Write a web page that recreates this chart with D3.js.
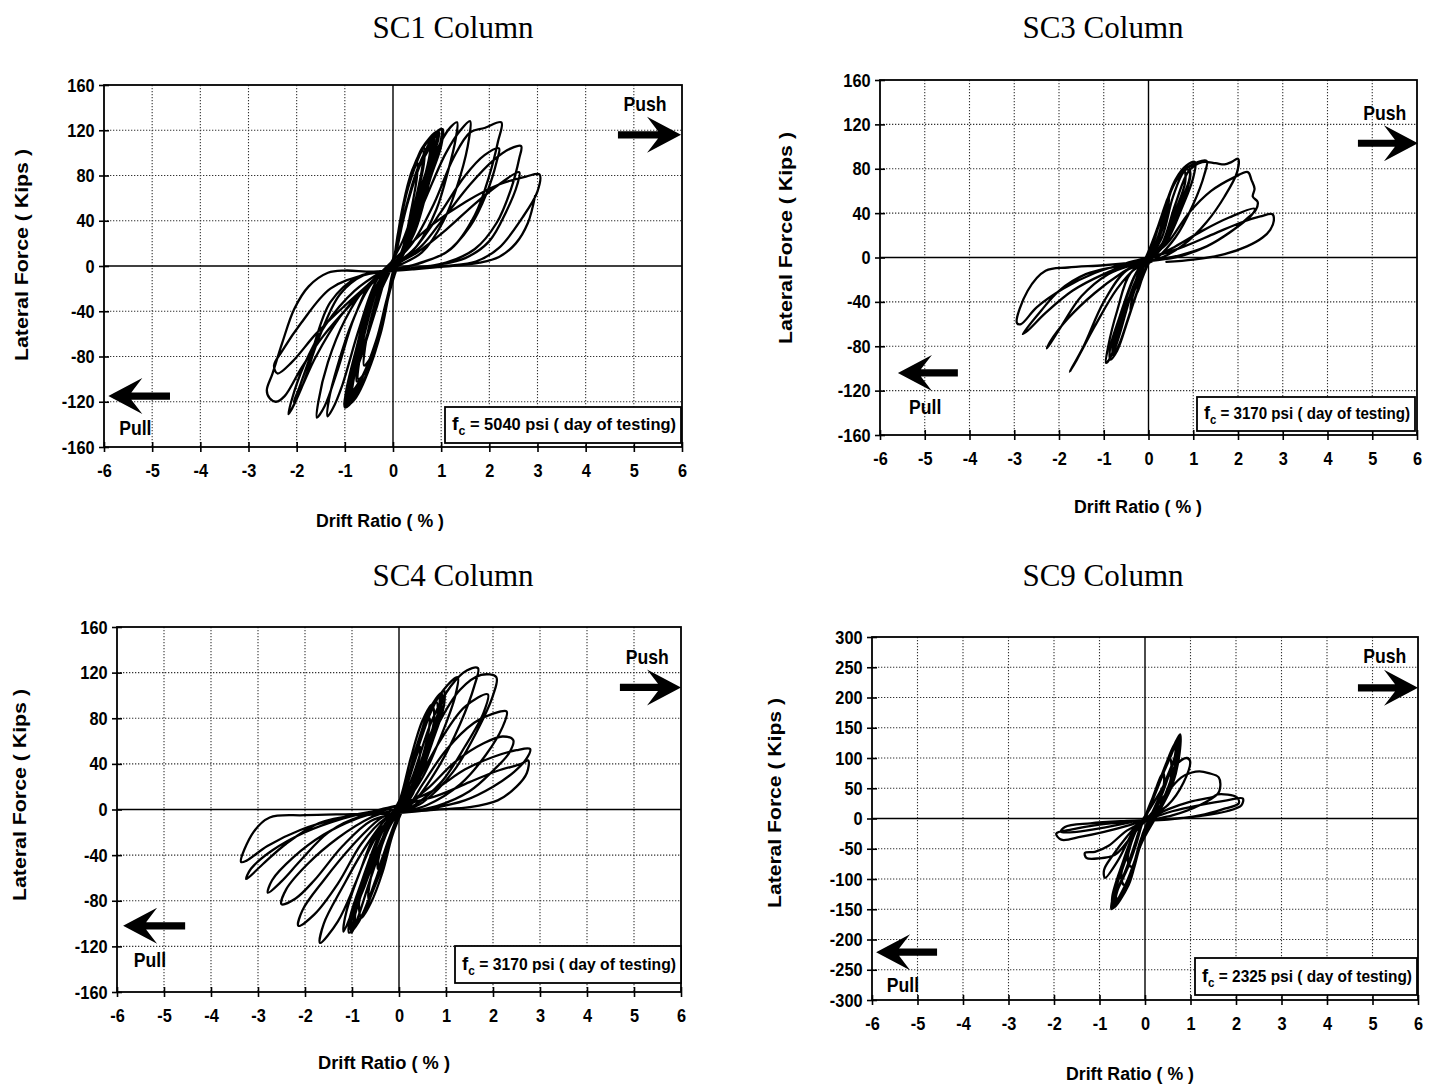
<!DOCTYPE html>
<html>
<head>
<meta charset="utf-8">
<script src="https://cdn.jsdelivr.net/npm/d3@7"></script>
<style>
  html, body { margin: 0; padding: 0; background: #fff; }
  svg { display: block; }
</style>
</head>
<body>
<svg id="fig" width="1440" height="1088"></svg>
<script>
// ---- chart data -------------------------------------------------------
const panelTitles = ["SC1 Column", "SC3 Column", "SC4 Column", "SC9 Column"];
const concreteStrength = ["5040", "3170", "3170", "2325"];
const driftTicks = [-6, -5, -4, -3, -2, -1, 0, 1, 2, 3, 4, 5, 6];
const forceTicks160 = [-160, -120, -80, -40, 0, 40, 80, 120, 160];
const forceTicks300 = [-300, -250, -200, -150, -100, -50, 0, 50, 100, 150, 200, 250, 300];

// Hysteresis loops, [drift %, lateral force kips], one array per cycle.
const sc1Loops = [
  [[0,0],[0.08,20],[0.2,50],[0.35,78],[0.5,92],[0.5,80],[0.38,50],[0.2,15],[0,-5],[-0.1,-25],[-0.25,-55],[-0.45,-80],[-0.6,-88],[-0.58,-72],[-0.42,-40],[-0.2,-10],[0,4]],
  [[0.08,22],[0.22,55],[0.4,85],[0.65,104],[0.64,90],[0.48,58],[0.26,20],[0.02,-5],[-0.1,-28],[-0.28,-62],[-0.55,-92],[-0.75,-102],[-0.72,-85],[-0.55,-50],[-0.28,-14],[0,4]],
  [[0.07,20],[0.2,52],[0.38,82],[0.62,102],[0.61,88],[0.45,55],[0.24,18],[0.02,-5],[-0.09,-26],[-0.26,-60],[-0.52,-90],[-0.72,-100],[-0.7,-84],[-0.52,-48],[-0.26,-12],[0,4]],
  [[0.1,25],[0.25,60],[0.5,95],[0.8,114],[0.79,100],[0.6,68],[0.32,24],[0.04,-4],[-0.12,-30],[-0.32,-68],[-0.62,-102],[-0.86,-114],[-0.83,-98],[-0.66,-62],[-0.35,-18],[0,5]],
  [[0.09,23],[0.23,57],[0.47,92],[0.77,112],[0.76,98],[0.57,65],[0.3,22],[0.03,-4],[-0.11,-29],[-0.3,-66],[-0.6,-100],[-0.84,-113],[-0.8,-96],[-0.63,-60],[-0.33,-17],[0,5]],
  [[0.08,15],[0.25,48],[0.5,85],[0.85,115],[0.84,105],[0.6,72],[0.35,35],[0.12,5],[-0.1,-25],[-0.3,-60],[-0.6,-95],[-0.9,-118],[-0.88,-108],[-0.6,-72],[-0.35,-38],[-0.12,-6],[0,3]],
  [[0.1,20],[0.3,55],[0.55,88],[0.9,117],[0.88,100],[0.55,62],[0.3,28],[0.1,3],[-0.12,-28],[-0.35,-66],[-0.68,-102],[-0.97,-122],[-0.93,-110],[-0.65,-76],[-0.4,-42],[-0.14,-8],[0,3]],
  [[0.1,28],[0.28,64],[0.58,102],[0.92,119],[0.9,106],[0.7,76],[0.4,30],[0.06,-3],[-0.12,-32],[-0.36,-74],[-0.7,-110],[-0.95,-121],[-0.92,-106],[-0.74,-72],[-0.42,-24],[0,6]],
  [[0.11,29],[0.29,66],[0.6,104],[0.9,118],[0.88,104],[0.68,74],[0.38,28],[0.05,-3],[-0.13,-33],[-0.38,-76],[-0.72,-112],[-0.93,-120],[-0.9,-104],[-0.72,-70],[-0.4,-22],[0,6]],
  [[0.09,18],[0.27,52],[0.52,86],[0.7,100],[0.95,119],[0.93,110],[0.7,85],[0.45,50],[0.2,15],[0.05,0],[-0.11,-26],[-0.32,-62],[-0.64,-98],[-0.82,-110],[-1.0,-124],[-0.98,-114],[-0.7,-85],[-0.5,-58],[-0.25,-22],[0,2]],
  [[0.12,30],[0.3,68],[0.65,106],[1.0,121],[0.98,108],[0.76,80],[0.45,34],[0.08,-2],[-0.14,-34],[-0.4,-80],[-0.78,-116],[-1.0,-125],[-0.97,-110],[-0.78,-76],[-0.46,-28],[0,6]],
  [[0.12,31],[0.32,70],[0.68,108],[1.03,121],[1.0,106],[0.78,78],[0.47,32],[0.08,-2],[-0.15,-36],[-0.42,-82],[-0.8,-118],[-0.99,-124],[-0.95,-108],[-0.76,-74],[-0.44,-26],[0,6]],
  [[0.2,22],[0.6,70],[1.0,110],[1.2,123],[1.33,127],[1.3,112],[1.15,85],[0.9,50],[0.5,18],[0.1,3],[-0.3,-10],[-0.7,-55],[-1.05,-105],[-1.25,-126],[-1.36,-133],[-1.33,-118],[-1.15,-88],[-0.85,-50],[-0.45,-16],[0,0]],
  [[0.3,22],[0.7,62],[1.1,100],[1.4,120],[1.6,128],[1.58,113],[1.4,80],[1.05,40],[0.6,12],[0.1,0],[-0.4,-12],[-0.8,-45],[-1.15,-92],[-1.42,-124],[-1.58,-134],[-1.55,-120],[-1.35,-85],[-1.0,-48],[-0.55,-18],[0,2]],
  [[0.4,20],[0.85,55],[1.25,95],[1.6,118],[1.9,122],[2.25,127],[2.18,110],[2.0,80],[1.7,45],[1.2,15],[0.6,3],[0,-3],[-0.6,-8],[-1.1,-25],[-1.55,-65],[-1.9,-108],[-2.17,-131],[-2.1,-118],[-1.85,-88],[-1.4,-52],[-0.8,-22],[-0.2,-4],[0.2,5]],
  [[0.5,18],[1.0,48],[1.5,80],[1.9,98],[2.2,104],[2.15,92],[1.95,65],[1.6,35],[1.1,12],[0.5,2],[0,-4],[-0.7,-9],[-1.3,-32],[-1.7,-78],[-1.95,-108],[-2.06,-120],[-1.95,-112],[-1.6,-80],[-1.1,-45],[-0.6,-20],[-0.1,-2],[0.3,8]],
  [[0.6,18],[1.1,45],[1.6,72],[2.1,94],[2.45,104],[2.66,106],[2.62,95],[2.45,68],[2.15,38],[1.7,15],[1.1,3],[0.4,-2],[-0.4,-5],[-1.0,-4],[-1.35,-6],[-1.75,-18],[-2.05,-38],[-2.3,-68],[-2.5,-95],[-2.62,-110],[-2.56,-117],[-2.43,-120],[-2.25,-115],[-1.9,-90],[-1.45,-62],[-0.9,-35],[-0.4,-14],[0.1,2]],
  [[0.5,12],[1.1,32],[1.7,55],[2.2,72],[2.62,83],[2.58,72],[2.35,48],[2.0,22],[1.5,7],[0.9,1],[0.2,-3],[-0.6,-8],[-1.3,-20],[-1.9,-50],[-2.3,-75],[-2.47,-88],[-2.4,-95],[-2.1,-85],[-1.6,-60],[-1.0,-35],[-0.4,-12],[0.2,13]],
  [[0.83,37],[1.52,57],[2.2,72],[2.76,79],[3.04,81],[3.0,66],[2.69,43],[2.2,16],[1.72,4],[1.1,0],[0.4,-3],[-0.2,-5],[0.5,-2],[1.2,0],[1.8,3],[2.2,8],[2.55,20],[2.8,38],[2.95,62]]
];

const sc3Loops = [
  [[0,0],[0.15,18],[0.3,38],[0.28,28],[0.1,6],[0,-4],[-0.12,-16],[-0.25,-32],[-0.22,-24],[-0.08,-6],[0,0]],
  [[0.2,25],[0.45,55],[0.42,42],[0.15,8],[0,-5],[-0.2,-25],[-0.4,-48],[-0.36,-36],[-0.1,-8],[0,1]],
  [[0.1,14],[0.35,44],[0.6,68],[0.8,78],[0.82,68],[0.6,42],[0.3,12],[0.05,-2],[-0.12,-16],[-0.4,-48],[-0.65,-78],[-0.78,-88],[-0.8,-78],[-0.6,-50],[-0.3,-16],[-0.05,0]],
  [[0.12,16],[0.4,50],[0.68,74],[0.9,82],[0.92,72],[0.68,46],[0.35,14],[0.05,-2],[-0.14,-18],[-0.45,-55],[-0.7,-84],[-0.85,-92],[-0.86,-82],[-0.65,-54],[-0.33,-18],[-0.05,1]],
  [[0.25,32],[0.6,70],[0.8,80],[0.93,77],[0.85,60],[0.5,25],[0.1,2],[-0.15,-8],[-0.4,-35],[-0.65,-70],[-0.8,-88],[-0.75,-75],[-0.45,-38],[-0.15,-10],[0.05,2]],
  [[0.2,16],[0.4,46],[0.6,70],[0.85,83],[1.04,86],[1.0,72],[0.75,45],[0.4,14],[0.05,-2],[-0.4,-14],[-0.7,-48],[-0.9,-80],[-0.95,-95],[-0.85,-90],[-0.6,-58],[-0.3,-22],[0,-2]],
  [[0.3,18],[0.55,55],[0.8,78],[1.1,86],[1.3,87],[1.25,75],[1.0,48],[0.6,18],[0.1,-3],[-0.5,-12],[-1.0,-40],[-1.45,-80],[-1.76,-103],[-1.6,-92],[-1.2,-62],[-0.7,-28],[-0.2,-6],[0.1,3]],
  [[0.3,12],[0.6,48],[0.9,78],[1.2,86],[1.5,85],[1.7,84],[1.85,86],[2.0,89],[1.98,77],[1.7,55],[1.3,32],[0.8,12],[0.3,0],[-0.3,-6],[-0.9,-15],[-1.5,-35],[-1.95,-62],[-2.27,-82],[-2.2,-76],[-1.8,-55],[-1.2,-32],[-0.6,-14],[0,0]],
  [[0.4,12],[0.9,40],[1.4,60],[1.9,72],[2.22,77],[2.3,70],[2.37,62],[2.33,55],[2.44,50],[2.4,43],[2.2,35],[1.8,22],[1.3,10],[0.7,2],[0,-3],[-0.7,-8],[-1.4,-15],[-2.0,-30],[-2.4,-48],[-2.81,-69],[-2.7,-66],[-2.3,-50],[-1.7,-30],[-1.0,-15],[-0.3,-4],[0.2,2]],
  [[0.6,10],[1.2,24],[1.8,36],[2.37,44],[2.3,38],[1.9,25],[1.3,10],[0.6,0],[-0.2,-4],[-1.0,-7],[-1.8,-9],[-2.3,-12],[-2.7,-30],[-2.94,-59],[-2.85,-60],[-2.5,-45],[-1.9,-28],[-1.2,-14],[-0.4,-4],[0.3,3]],
  [[0.8,10],[1.5,22],[2.1,32],[2.5,37],[2.77,39],[2.8,33],[2.72,25],[2.55,18],[2.2,10],[1.7,3],[1.0,-2],[0.4,-4]]
];

const sc4Loops = [
  [[0,0],[0.2,25],[0.45,55],[0.42,42],[0.15,8],[0,-3],[-0.2,-24],[-0.45,-52],[-0.42,-40],[-0.15,-8],[0,2]],
  [[0.25,35],[0.65,80],[0.6,62],[0.2,10],[0,-5],[-0.25,-32],[-0.65,-78],[-0.6,-60],[-0.2,-10],[0,3]],
  [[0.1,14],[0.4,55],[0.7,88],[0.88,100],[0.9,88],[0.65,55],[0.35,20],[0.08,0],[-0.12,-16],[-0.45,-58],[-0.8,-94],[-1.0,-104],[-1.0,-92],[-0.75,-60],[-0.4,-22],[-0.08,0]],
  [[0.1,15],[0.35,52],[0.6,82],[0.85,100],[0.85,88],[0.6,58],[0.35,25],[0.1,2],[-0.12,-20],[-0.4,-55],[-0.7,-85],[-0.95,-104],[-0.95,-92],[-0.72,-66],[-0.45,-36],[-0.15,-6],[0,2]],
  [[0.12,16],[0.45,60],[0.75,92],[0.95,104],[0.96,92],[0.7,58],[0.38,22],[0.08,1],[-0.14,-18],[-0.5,-62],[-0.85,-98],[-1.06,-108],[-1.05,-96],[-0.8,-64],[-0.44,-24],[-0.08,1]],
  [[0.12,18],[0.4,58],[0.65,88],[0.9,102],[0.9,90],[0.62,60],[0.36,26],[0.1,2],[-0.14,-22],[-0.45,-60],[-0.75,-90],[-1.02,-106],[-1.0,-94],[-0.76,-70],[-0.48,-40],[-0.18,-8],[0,2]],
  [[0.08,12],[0.35,48],[0.62,80],[0.8,94],[0.82,82],[0.58,50],[0.3,16],[0.06,0],[-0.1,-14],[-0.4,-52],[-0.72,-88],[-0.92,-100],[-0.92,-88],[-0.68,-56],[-0.36,-20],[-0.06,0]],
  [[0.06,14],[0.25,45],[0.5,78],[0.7,92],[0.75,80],[0.55,46],[0.3,14],[0.05,-2],[-0.15,-24],[-0.35,-55],[-0.6,-82],[-0.8,-95],[-0.85,-82],[-0.65,-50],[-0.35,-16],[-0.05,1]],
  [[0.2,30],[0.6,80],[0.95,105],[1.25,116],[1.2,100],[0.9,65],[0.5,28],[0.1,3],[-0.2,-15],[-0.6,-60],[-0.85,-92],[-1.0,-108],[-0.95,-95],[-0.7,-62],[-0.35,-25],[0,0]],
  [[0.3,30],[0.7,78],[1.1,108],[1.45,122],[1.68,124],[1.6,108],[1.3,75],[0.85,38],[0.3,6],[-0.2,-8],[-0.6,-45],[-0.95,-85],[-1.18,-107],[-1.15,-95],[-0.9,-62],[-0.5,-25],[0,0]],
  [[0.35,28],[0.8,72],[1.3,105],[1.75,118],[2.07,116],[2.0,100],[1.65,68],[1.15,33],[0.5,6],[0,-4],[-0.5,-22],[-0.9,-62],[-1.3,-98],[-1.68,-117],[-1.6,-100],[-1.2,-68],[-0.7,-32],[-0.2,-5],[0.1,3]],
  [[0.4,25],[0.9,62],[1.4,90],[1.89,101],[1.8,85],[1.4,55],[0.9,24],[0.3,3],[-0.3,-8],[-0.8,-30],[-1.3,-65],[-1.8,-92],[-2.14,-102],[-2.05,-88],[-1.6,-62],[-1.0,-32],[-0.4,-8],[0.2,4]],
  [[0.5,22],[1.0,52],[1.6,76],[2.0,84],[2.29,86],[2.2,72],[1.85,48],[1.3,22],[0.6,4],[0,-3],[-0.6,-10],[-1.2,-32],[-1.8,-62],[-2.2,-78],[-2.5,-83],[-2.4,-70],[-1.95,-48],[-1.3,-25],[-0.6,-7],[0.1,3]],
  [[0.6,18],[1.2,42],[1.8,58],[2.2,64],[2.43,61],[2.35,50],[2.0,34],[1.5,16],[0.8,3],[0,-3],[-0.8,-6],[-1.5,-20],[-2.1,-45],[-2.5,-63],[-2.79,-73],[-2.7,-62],[-2.25,-42],[-1.6,-22],[-0.9,-8],[-0.2,1]],
  [[0.7,16],[1.4,35],[2.0,46],[2.5,52],[2.79,53],[2.72,45],[2.45,33],[2.0,20],[1.4,8],[0.7,1],[0,-3],[-0.9,-5],[-1.7,-12],[-2.4,-30],[-2.9,-48],[-3.25,-61],[-3.15,-52],[-2.7,-36],[-2.0,-20],[-1.2,-8],[-0.4,0]],
  [[0.8,12],[1.5,24],[2.1,34],[2.6,40],[2.75,43],[2.72,32],[2.5,20],[2.1,8],[1.5,2],[0.8,0],[0,-3],[-1.0,-4],[-2.0,-5],[-2.75,-7],[-3.1,-20],[-3.36,-46],[-3.25,-45],[-2.8,-32],[-2.1,-18],[-1.2,-7],[-0.3,0]]
];

const sc9Loops = [
  [[0,0],[0.1,20],[0.22,45],[0.35,70],[0.4,75],[0.42,60],[0.3,25],[0.1,0],[-0.05,-25],[-0.15,-55],[-0.3,-80],[-0.38,-70],[-0.3,-40],[-0.12,-10],[0,0]],
  [[0.12,22],[0.3,58],[0.5,95],[0.55,100],[0.58,75],[0.45,35],[0.15,2],[-0.08,-35],[-0.25,-80],[-0.45,-110],[-0.52,-100],[-0.4,-55],[-0.15,-12],[0,2]],
  [[0.08,15],[0.26,50],[0.45,88],[0.66,124],[0.66,104],[0.48,68],[0.3,33],[0.12,4],[-0.05,-26],[-0.2,-64],[-0.42,-108],[-0.66,-140],[-0.6,-118],[-0.38,-82],[-0.2,-44],[-0.06,-8],[0,2]],
  [[0.12,24],[0.35,65],[0.6,115],[0.68,126],[0.68,100],[0.55,55],[0.25,8],[-0.1,-40],[-0.33,-100],[-0.6,-138],[-0.64,-120],[-0.45,-65],[-0.18,-14],[0,3]],
  [[0.1,18],[0.3,55],[0.5,95],[0.7,128],[0.7,112],[0.52,75],[0.35,40],[0.15,6],[-0.06,-30],[-0.22,-70],[-0.45,-115],[-0.68,-142],[-0.62,-122],[-0.42,-88],[-0.25,-50],[-0.08,-10],[0,2]],
  [[0.14,26],[0.4,75],[0.65,122],[0.77,139],[0.76,108],[0.6,55],[0.3,10],[-0.1,-45],[-0.36,-110],[-0.7,-148],[-0.72,-130],[-0.5,-75],[-0.22,-20],[0,4]],
  [[0.12,22],[0.33,62],[0.56,102],[0.74,134],[0.73,115],[0.56,80],[0.4,45],[0.18,8],[-0.08,-32],[-0.26,-78],[-0.5,-122],[-0.71,-146],[-0.65,-125],[-0.46,-92],[-0.28,-55],[-0.1,-14],[0,3]],
  [[0.1,22],[0.32,62],[0.55,104],[0.72,132],[0.72,110],[0.55,60],[0.28,12],[-0.08,-40],[-0.3,-95],[-0.6,-135],[-0.74,-150],[-0.7,-128],[-0.48,-80],[-0.2,-20],[0,3]],
  [[0.12,24],[0.38,70],[0.62,118],[0.75,136],[0.74,112],[0.58,58],[0.28,10],[-0.1,-44],[-0.34,-104],[-0.62,-140],[-0.73,-148],[-0.66,-122],[-0.45,-70],[-0.18,-16],[0,3]],
  [[0.3,40],[0.7,90],[0.92,100],[0.99,95],[0.85,60],[0.5,22],[0.1,2],[-0.2,-15],[-0.6,-70],[-0.88,-98],[-0.9,-85],[-0.7,-60],[-0.4,-30],[-0.1,-5],[0.1,5]],
  [[0.4,35],[0.8,68],[1.03,76],[1.2,78],[1.4,75],[1.62,68],[1.65,50],[1.6,41],[1.2,22],[0.6,5],[0,-5],[-0.4,-20],[-0.8,-45],[-1.1,-55],[-1.32,-57],[-1.29,-65],[-1.03,-66],[-0.66,-60],[-0.3,-30],[0,-5]],
  [[0.5,15],[1.0,28],[1.5,36],[1.6,40],[2.02,35],[2.06,25],[1.7,15],[1.2,5],[0.5,-2],[-0.3,-5],[-1.0,-10],[-1.6,-18],[-1.95,-25],[-1.84,-35],[-1.4,-30],[-0.9,-22],[-0.3,-10],[0.2,2]],
  [[0.6,12],[1.2,22],[1.8,30],[2.15,33],[2.12,22],[1.8,12],[1.2,4],[0.5,-1],[-0.4,-4],[-1.2,-8],[-1.76,-14],[-1.85,-22],[-1.5,-22],[-0.9,-15],[-0.3,-6]]
];

// Direction annotations in data units: label centre, arrow tip, shaft end.
const pushNotes = [[5.23,143,5.98,116,4.67],[5.28,130,6.02,103,4.68],[5.28,134,6.0,107,4.7],[5.27,268,6.0,216,4.68]];
const pullNotes = [[-5.35,-143,-5.91,-115,-4.63],[-4.99,-135,-5.6,-104,-4.26],[-5.3,-132,-5.87,-102,-4.55],[-5.32,-275,-5.91,-221,-4.57]];

// ---- layout -----------------------------------------------------------
const layout = [
  { l: 104, r: 682, t: 85,  b: 447, yMin: -160, yMax: 160, ticks: forceTicks160, loops: sc1Loops,
    title: [453, 27], xLab: [380, 521, 128], yLab: [21, 255, 212], box: [445, 407, 681, 443] },
  { l: 880, r: 1417, t: 80, b: 435, yMin: -160, yMax: 160, ticks: forceTicks160, loops: sc3Loops,
    title: [1103, 27], xLab: [1138, 507, 128], yLab: [785, 238, 212], box: [1197, 397, 1415, 431] },
  { l: 117, r: 681, t: 627, b: 992, yMin: -160, yMax: 160, ticks: forceTicks160, loops: sc4Loops,
    title: [453, 575], xLab: [384, 1063, 132], yLab: [19, 795, 212], box: [455, 946, 681, 983] },
  { l: 872, r: 1418, t: 637, b: 1000, yMin: -300, yMax: 300, ticks: forceTicks300, loops: sc9Loops,
    title: [1103, 575], xLab: [1130, 1074, 128], yLab: [774, 803, 210], box: [1195, 958, 1417, 995] }
];

const svg = d3.select("#fig");
const sans = "'Liberation Sans', Arial, Helvetica, sans-serif";

function arrowPath(tx, ty, sx, dir) {
  const hl = 34, hh = 18, notch = 23, sw = 3.6;
  const neck = tx - dir * notch;
  return `M${sx},${ty - sw} L${neck},${ty - sw} L${tx - dir * hl},${ty - hh} L${tx},${ty} ` +
         `L${tx - dir * hl},${ty + hh} L${neck},${ty + sw} L${sx},${ty + sw} Z`;
}

layout.forEach((p, i) => {
  const x = d3.scaleLinear().domain([-6, 6]).range([p.l, p.r]);
  const y = d3.scaleLinear().domain([p.yMin, p.yMax]).range([p.b, p.t]);
  const g = svg.append("g");

  // panel title
  g.append("text")
    .attr("x", p.title[0]).attr("y", p.title[1])
    .attr("text-anchor", "middle").attr("dominant-baseline", "central")
    .style("font-family", "'Liberation Serif', 'Times New Roman', serif")
    .style("font-size", "31px")
    .text(panelTitles[i]);

  // dotted grid
  g.append("g").selectAll("line")
    .data(driftTicks.filter(d => d !== 0 && Math.abs(d) !== 6))
    .join("line")
    .attr("x1", d => x(d)).attr("x2", d => x(d))
    .attr("y1", p.t).attr("y2", p.b)
    .attr("stroke", "#333").attr("stroke-width", 1.1).attr("stroke-dasharray", "1.3,1.7");
  g.append("g").selectAll("line")
    .data(p.ticks.filter(d => d !== 0 && d !== p.yMin && d !== p.yMax))
    .join("line")
    .attr("x1", p.l).attr("x2", p.r)
    .attr("y1", d => y(d)).attr("y2", d => y(d))
    .attr("stroke", "#333").attr("stroke-width", 1.1).attr("stroke-dasharray", "1.3,1.7");

  // zero axes
  g.append("line").attr("x1", x(0)).attr("x2", x(0)).attr("y1", p.t).attr("y2", p.b)
    .attr("stroke", "#000").attr("stroke-width", 1.4);
  g.append("line").attr("x1", p.l).attr("x2", p.r).attr("y1", y(0)).attr("y2", y(0))
    .attr("stroke", "#000").attr("stroke-width", 1.4);

  // frame
  g.append("rect").attr("x", p.l).attr("y", p.t)
    .attr("width", p.r - p.l).attr("height", p.b - p.t)
    .attr("fill", "none").attr("stroke", "#000").attr("stroke-width", 1.8);

  // axes (ticks cross the frame)
  const fmt = d => String(d);
  const xa = g.append("g").attr("transform", `translate(0,${p.b})`)
    .call(d3.axisBottom(x).tickValues(driftTicks).tickSize(5).tickPadding(12).tickFormat(fmt));
  const ya = g.append("g").attr("transform", `translate(${p.l},0)`)
    .call(d3.axisLeft(y).tickValues(p.ticks).tickSize(5).tickPadding(6).tickFormat(fmt));
  [xa, ya].forEach(a => {
    a.select(".domain").remove();
    a.selectAll(".tick line").attr("stroke", "#000").attr("stroke-width", 1.6);
    a.selectAll(".tick text")
      .style("font-family", sans).style("font-weight", "bold").style("font-size", "19px")
      .attr("fill", "#000").attr("transform", "scale(0.86,1)");
  });
  xa.selectAll(".tick line").attr("y1", -5);
  ya.selectAll(".tick line").attr("x1", 5);

  // hysteresis curve
  const pts = p.loops.flat();
  const line = d3.line().x(d => x(d[0])).y(d => y(d[1])).curve(d3.curveCatmullRom.alpha(0.5));
  g.append("path").attr("d", line(pts))
    .attr("fill", "none").attr("stroke", "#000").attr("stroke-width", 2.3)
    .attr("stroke-linejoin", "round").attr("stroke-linecap", "round");

  // legend box with concrete strength
  const [bx0, by0, bx1, by1] = p.box;
  g.append("rect").attr("x", bx0).attr("y", by0).attr("width", bx1 - bx0).attr("height", by1 - by0)
    .attr("fill", "#fff").attr("stroke", "#000").attr("stroke-width", 1.8);
  const lt = g.append("text")
    .attr("x", bx0 + 7).attr("y", (by0 + by1) / 2 + 5)
    .attr("textLength", bx1 - bx0 - 12).attr("lengthAdjust", "spacingAndGlyphs")
    .style("font-family", sans).style("font-weight", "bold").style("font-size", "16px");
  lt.append("tspan").style("font-size", "19px").text("f");
  lt.append("tspan").attr("dy", 5).style("font-size", "12px").text("c");
  lt.append("tspan").attr("dy", -5).text(` = ${concreteStrength[i]} psi ( day of testing)`);

  // push / pull annotations
  const push = pushNotes[i], pull = pullNotes[i];
  [[push, 1, "Push"], [pull, -1, "Pull"]].forEach(([n, dir, word]) => {
    g.append("text")
      .attr("transform", `translate(${x(n[0])},${y(n[1])}) scale(0.88,1)`)
      .attr("text-anchor", "middle").attr("dominant-baseline", "central")
      .style("font-family", sans).style("font-weight", "bold").style("font-size", "20px")
      .text(word);
    g.append("path").attr("d", arrowPath(x(n[2]), y(n[3]), x(n[4]), dir)).attr("fill", "#000");
  });

  // axis titles
  g.append("text")
    .attr("x", p.xLab[0]).attr("y", p.xLab[1])
    .attr("text-anchor", "middle").attr("dominant-baseline", "central")
    .attr("textLength", p.xLab[2]).attr("lengthAdjust", "spacingAndGlyphs")
    .style("font-family", sans).style("font-weight", "bold").style("font-size", "18px")
    .text("Drift Ratio ( % )");
  g.append("text")
    .attr("transform", `translate(${p.yLab[0]},${p.yLab[1]}) rotate(-90)`)
    .attr("text-anchor", "middle").attr("dominant-baseline", "central")
    .attr("textLength", p.yLab[2]).attr("lengthAdjust", "spacingAndGlyphs")
    .style("font-family", sans).style("font-weight", "bold").style("font-size", "19px")
    .text("Lateral Force ( Kips )");
});
</script>
</body>
</html>
